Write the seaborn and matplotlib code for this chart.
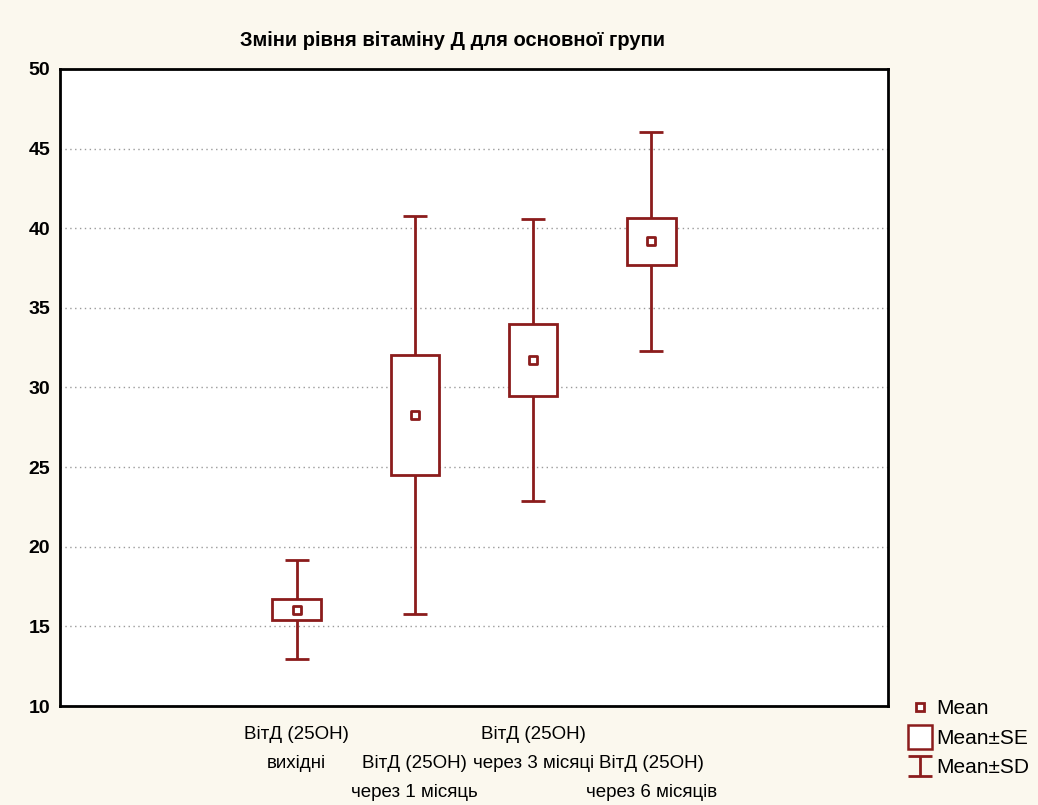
import numpy as np
import pandas as pd
import matplotlib
matplotlib.use("Agg")
import matplotlib.pyplot as plt
import seaborn as sns
from matplotlib.lines import Line2D

# ---- data ----
groups = ["ВітД (25ОН)\nвихідні",
          "ВітД (25ОН)\nчерез 1 місяць",
          "ВітД (25ОН)\nчерез 3 місяці",
          "ВітД (25ОН)\nчерез 6 місяців"]
means = [16.05, 28.27, 31.73, 39.17]
se = [0.65, 3.77, 2.26, 1.47]
sd = [3.10, 12.50, 8.88, 6.86]
y_ticks = [10, 15, 20, 25, 30, 35, 40, 45, 50]

RED = "#8B1C1C"
BG = "#FBF8EE"

sns.set_style("white")
plt.rcParams["font.family"] = ["Liberation Sans", "DejaVu Sans"]
plt.rcParams.update({"text.color": "black", "xtick.color": "black", "ytick.color": "black"})

df = pd.DataFrame({"pos": np.arange(len(groups)), "mean": means, "se": se, "sd": sd})

fig = plt.figure(figsize=(10.38, 8.05), dpi=100, facecolor=BG)
ax = fig.add_axes([60 / 1038, 1 - 706 / 805, 828 / 1038, 637 / 805])
ax.set_facecolor("white")

# Mean±SD whiskers
eb = ax.errorbar(df["pos"], df["mean"], yerr=df["sd"], fmt="none", ecolor=RED,
                 elinewidth=2, capsize=8.6, capthick=2, zorder=2)
# Mean±SE boxes
ax.bar(df["pos"], 2 * df["se"], bottom=df["mean"] - df["se"], width=0.41,
       facecolor="white", edgecolor=RED, linewidth=2, zorder=3)
# Mean markers
sns.scatterplot(data=df, x="pos", y="mean", marker="s", s=40, facecolor="white",
                edgecolor=RED, linewidth=2, zorder=4, ax=ax, legend=False)

ax.set_xlim(-2, 5)
ax.set_ylim(10, 50)
ax.set_yticks(y_ticks)
ax.set_yticklabels([str(t) for t in y_ticks], fontsize=14, fontweight="bold")
ax.set_xticks(np.arange(-2, 6))
ax.set_xticklabels([""] * 8)
ax.tick_params(axis="both", direction="in", length=3, width=1.5, colors="black", pad=7)
for i, lab in enumerate(groups):
    txt = lab if i % 2 == 0 else "\n" + lab
    ax.text(i, -0.031, txt, transform=ax.get_xaxis_transform(), ha="center", va="top",
            fontsize=13.5, linespacing=1.95)
ax.set_xlabel("")
ax.set_ylabel("")
ax.grid(axis="y", linestyle=(0, (1, 2.5)), color="#9a9a9a", linewidth=1)
ax.grid(axis="x", visible=False)
for sp in ax.spines.values():
    sp.set_color("black")
    sp.set_linewidth(2)
    sp.set_visible(True)

fig.text(453 / 1038, 1 - 40 / 805, "Зміни рівня вітаміну Д для основної групи",
         ha="center", va="center", fontsize=14.5, fontweight="bold")

handles = [
    Line2D([0], [0], linestyle="none", marker="s", markersize=6, markerfacecolor="white",
           markeredgecolor=RED, markeredgewidth=2),
    Line2D([0], [0], linestyle="none", marker="s", markersize=17, markerfacecolor="white",
           markeredgecolor=RED, markeredgewidth=1.8),
    eb,
]
fig.legend(handles, ["Mean", "Mean±SE", "Mean±SD"], loc="upper left",
           bbox_to_anchor=(898 / 1038, 1 - 689 / 805), frameon=False, fontsize=15,
           handlelength=1.1, handletextpad=0.25, labelspacing=0.5, borderpad=0)

fig.savefig("out.png", dpi=100, facecolor=BG)
